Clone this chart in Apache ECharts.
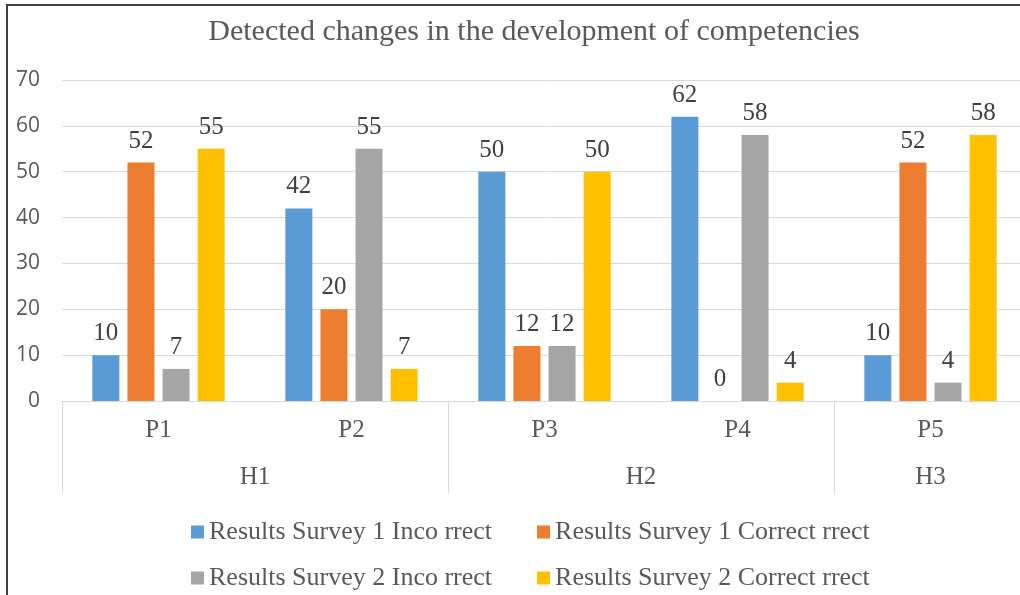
<!DOCTYPE html>
<html>
<head>
<meta charset="utf-8">
<script src="https://cdn.jsdelivr.net/npm/echarts@6/dist/echarts.min.js"></script>
<style>
  html, body { margin: 0; padding: 0; background: #fff; overflow: hidden; }
  #wrap { width: 1020px; height: 595px; overflow: hidden; position: relative; }
  #chart { width: 1030px; height: 595px; }
</style>
</head>
<body>
<div id="wrap"><div id="chart"></div></div>
<script>
let categories = ['P1', 'P2', 'P3', 'P4', 'P5'];
let groups = [{ name: 'H1', at: 1 }, { name: 'H2', at: 3 }, { name: 'H3', at: 4.5 }];
let yTicks = { min: 0, max: 70, interval: 10 };

let s1Incorrect = [10, 42, 50, 62, 10];
let s1Correct = [52, 20, 12, 0, 52];
let s2Incorrect = [7, 55, 12, 58, 4];
let s2Correct = [55, 7, 50, 4, 58];

let seriesNames = [
    'Results Survey 1 Inco rrect',
    'Results Survey 1 Correct rrect',
    'Results Survey 2 Inco rrect',
    'Results Survey 2 Correct rrect'
];
let colors = ['#5B9BD5', '#ED7D31', '#A5A5A5', '#FFC000'];

const FONT = "'Liberation Serif', 'Times New Roman', serif";
const SANS = "'Open Sans', 'Liberation Sans', sans-serif";

let seriesData = [s1Incorrect, s1Correct, s2Incorrect, s2Correct];

let series = seriesData.map((d, i) => ({
    name: seriesNames[i],
    type: 'bar',
    data: d,
    barWidth: 27,
    barGap: '30%',
    itemStyle: { color: colors[i] },
    label: {
        show: true,
        position: 'top',
        distance: 9,
        color: '#404040',
        fontFamily: FONT,
        fontSize: 25
    }
}));

let legendCommon = {
    left: 186,
    itemWidth: 13,
    itemHeight: 13,
    itemGap: 45,
    icon: 'rect',
    textStyle: { color: '#595959', fontFamily: FONT, fontSize: 26 }
};

let option = {
    animation: false,
    title: {
        text: 'Detected changes in the development of competencies',
        left: 529,
        textAlign: 'center',
        top: 12,
        textStyle: { color: '#595959', fontFamily: FONT, fontSize: 30, fontWeight: 'normal' }
    },
    legend: [
        Object.assign({ top: 514, data: [seriesNames[0], seriesNames[1]] }, legendCommon),
        Object.assign({ top: 560, data: [seriesNames[2], seriesNames[3]] }, legendCommon)
    ],
    grid: { left: 62, right: 0, top: 80, bottom: 194 },
    xAxis: [{
        type: 'category',
        data: categories,
        axisLine: { lineStyle: { color: '#D9D9D9' } },
        axisTick: {
            show: true,
            length: 92,
            interval: (index) => index % 2 === 0,
            lineStyle: { color: '#D9D9D9' }
        },
        axisLabel: { color: '#595959', fontFamily: FONT, fontSize: 25, margin: 17 }
    }, {
        type: 'value',
        position: 'bottom',
        min: 0,
        max: categories.length,
        interval: 0.5,
        axisLine: { show: false },
        axisTick: { show: false },
        splitLine: { show: false },
        axisLabel: {
            color: '#595959',
            fontFamily: FONT,
            fontSize: 25,
            margin: 64,
            formatter: (v) => {
                let g = groups.find(x => Math.abs(x.at - v) < 1e-6);
                return g ? g.name : '';
            }
        }
    }],
    yAxis: {
        type: 'value',
        min: yTicks.min,
        max: yTicks.max,
        interval: yTicks.interval,
        axisLine: { show: false },
        axisTick: { show: false },
        splitLine: { lineStyle: { color: '#D9D9D9' } },
        axisLabel: { color: '#595959', fontFamily: SANS, fontSize: 21, margin: 22 }
    },
    graphic: [{
        type: 'rect',
        shape: { x: 7, y: 5, width: 1100, height: 700 },
        style: { fill: 'none', stroke: '#404040', lineWidth: 2 },
        silent: true
    }],
    series: series
};

echarts.init(document.getElementById('chart')).setOption(option);
</script>
</body>
</html>
